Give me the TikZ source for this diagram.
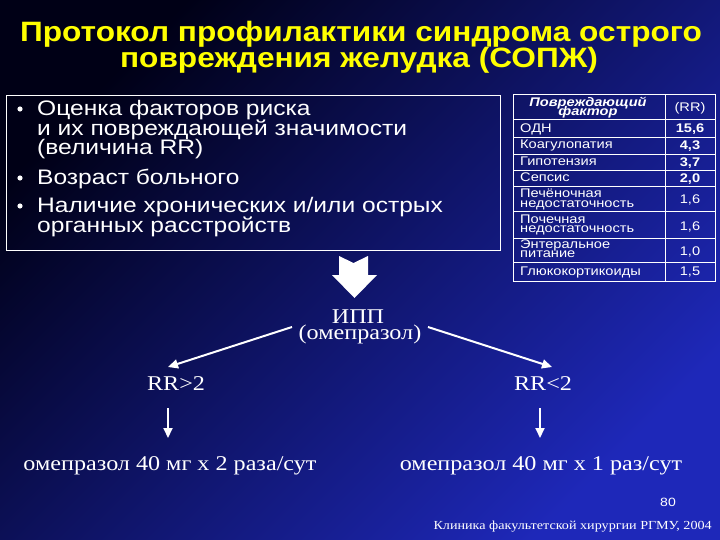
\documentclass[tikz,border=0pt]{standalone}
\usepackage{fontspec}
\setmainfont{Liberation Serif}
\newfontfamily\ars[FakeStretch=1.17]{Liberation Sans}
\newfontfamily\arst[FakeStretch=1.13]{Liberation Sans}
\newfontfamily\tms[FakeStretch=1.15]{Liberation Serif}
\usetikzlibrary{arrows.meta}
\definecolor{bgA}{RGB}{0,0,22}
\definecolor{bgB}{RGB}{30,40,185}
\definecolor{ttl}{RGB}{255,255,0}
\tikzset{
  ttlline/.style={anchor=base,text=ttl,inner sep=0pt,font=\arst\bfseries\fontsize{28}{28}\selectfont},
  bul/.style={anchor=base west,text=white,inner sep=0pt,font=\ars\fontsize{21}{21}\selectfont},
  tcell/.style={anchor=base west,text=white,inner sep=0pt,font=\ars\fontsize{12.5}{10}\selectfont},
  tval/.style={anchor=base,text=white,inner sep=0pt,font=\ars\fontsize{12.5}{10}\selectfont},
  tbold/.style={tval,font=\ars\bfseries\fontsize{12.5}{10}\selectfont},
  thead/.style={anchor=base,text=white,inner sep=0pt,font=\ars\bfseries\itshape\fontsize{12.5}{10}\selectfont},
  tms/.style={anchor=base,text=white,inner sep=0pt,font=\tms\fontsize{21}{21}\selectfont},
  grid/.style={draw=white,line width=1pt},
  arr/.style={draw=white,line width=2pt,-{Triangle[length=10pt,width=9pt]}},
}
\begin{document}
\begin{tikzpicture}[x=1pt,y=-1pt]
\useasboundingbox (0,0) rectangle (720,540);
\shade[top color=bgA,bottom color=bgB,shading angle=45] (0,0) rectangle (720,540);
% title
\node[ttlline] (t1) at (361,42) {Протокол профилактики синдрома острого};
\node[ttlline] (t2) at (359,68) {повреждения желудка (СОПЖ)};
% left box
\draw[grid] (6,96) rectangle (500,250);
\foreach \y in {109,178,206}{\fill[white] (20,\y) circle (2.6pt);}
\node[bul] (l1) at (37,116) {Оценка факторов риска};
\node[bul] (l2) at (37,136) {и их повреждающей значимости};
\node[bul] (l3) at (37,155) {(величина RR)};
\node[bul] (l4) at (37,185) {Возраст больного};
\node[bul] (l5) at (37,213) {Наличие хронических и/или острых};
\node[bul] (l6) at (37,233) {органных расстройств};
% table
\draw[grid] (513,95) rectangle (715,281);
\draw[grid] (665,95) -- (665,281);
\foreach \y in {120,138,155,171,187,212,238,262}{\draw[grid] (513,\y) -- (715,\y);}
\node[thead] (h1) at (588,107) {Повреждающий};
\node[thead] (h1b) at (588,116) {фактор};
\node[tval] (h2) at (690,112) {(RR)};
\node[tcell] (r1) at (520,133) {ОДН};
\node[tcell] (r2) at (520,149) {Коагулопатия};
\node[tcell] (r3) at (520,166) {Гипотензия};
\node[tcell] (r4) at (520,182) {Сепсис};
\node[tcell] (r5) at (520,198) {Печёночная};
\node[tcell] (r5b) at (520,207.5) {недостаточность};
\node[tcell] (r6) at (520,223) {Почечная};
\node[tcell] (r6b) at (520,232.5) {недостаточность};
\node[tcell] (r7) at (520,248) {Энтеральное};
\node[tcell] (r7b) at (520,257.5) {питание};
\node[tcell] (r8) at (520,275) {Глюкокортикоиды};
\node[tbold] (v1) at (690,133) {15,6};
\node[tbold] (v2) at (690,150) {4,3};
\node[tbold] (v3) at (690,167) {3,7};
\node[tbold] (v4) at (690,183) {2,0};
\node[tval] (v5) at (690,204) {1,6};
\node[tval] (v6) at (690,230) {1,6};
\node[tval] (v7) at (690,255) {1,0};
\node[tval] (v8) at (690,275) {1,5};
% big arrow
\fill[white] (339,256) -- (353.5,263) -- (368,256) -- (368,275) -- (377,275) -- (354.5,298) -- (332,275) -- (339,275) -- cycle;
\node[tms] (ipp) at (358,323) {ИПП};
\node[tms] (ome) at (360,339) {(омепразол)};
\coordinate (la) at (292,327);
\coordinate (ra) at (428,327);
\coordinate (lt) at (168,367);
\coordinate (rt) at (552,367);
\node[tms] (rr1) at (176,390) {RR>2};
\node[tms] (rr2) at (543,390) {RR<2};
\draw[arr] (la) -- (lt);
\draw[arr] (ra) -- (rt);
\node[tms] (d1) at (170,470) {омепразол 40 мг х 2 раза/сут};
\node[tms] (d2) at (541,470) {омепразол 40 мг х 1 раз/сут};
\coordinate (la2) at (168,408);
\coordinate (lb2) at (168,438);
\coordinate (ra2) at (540,408);
\coordinate (rb2) at (540,438);
\draw[arr] (la2) -- (lb2);
\draw[arr] (ra2) -- (rb2);
\node[anchor=base,text=white,inner sep=0pt,font=\ars\fontsize{12}{12}\selectfont] (pg) at (668,506) {80};
\node[anchor=base east,text=white,inner sep=0pt,font=\tms\fontsize{12.3}{12.3}\selectfont] (ft) at (712,529) {Клиника факультетской хирургии РГМУ, 2004};
\end{tikzpicture}
\end{document}
